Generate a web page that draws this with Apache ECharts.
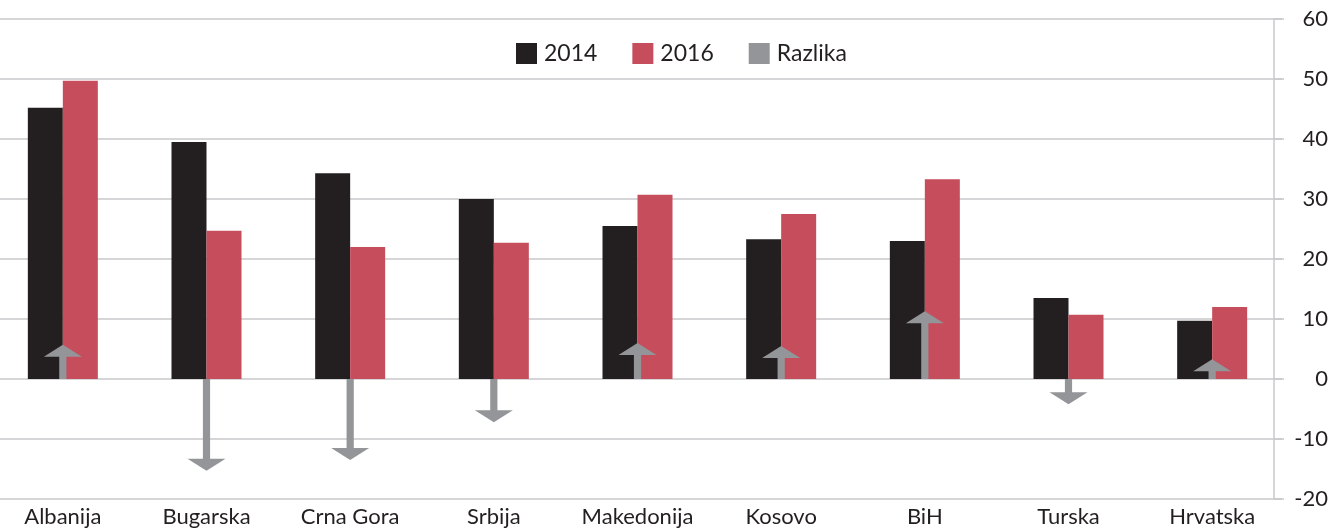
<!DOCTYPE html>
<html>
<head>
<meta charset="utf-8">
<script src="https://cdn.jsdelivr.net/npm/echarts@6/dist/echarts.min.js"></script>
<style>
  html, body { margin: 0; padding: 0; background: #fff; }
  #chart { width: 1340px; height: 530px; }
</style>
</head>
<body>
<div id="chart"></div>
<script>
  'use strict'

  var categories = ['Albanija', 'Bugarska', 'Crna Gora', 'Srbija', 'Makedonija', 'Kosovo', 'BiH', 'Turska', 'Hrvatska'];
  var values2014 = [45.2, 39.5, 34.3, 30.0, 25.5, 23.3, 23.0, 13.5, 9.7];
  var values2016 = [49.7, 24.7, 22.0, 22.7, 30.7, 27.5, 33.3, 10.7, 12.0];
  var razlika = [5.7, -15.3, -13.5, -7.2, 6.0, 5.5, 11.3, -4.2, 3.3];

  var font = 'Lato, "Open Sans", sans-serif';
  var gridColor = '#c9c9cb';

  /*-----arrow for razlika-----*/
  function renderArrow(params, api) {
    var idx = api.value(0);
    var val = api.value(1);
    var base = api.coord([idx, 0]);
    var tip = api.coord([idx, val]);
    var dir = tip[1] < base[1] ? 1 : -1;
    var shaft = 3.6, head = 19, headLen = 12;
    var x = base[0], neck = tip[1] + dir * headLen;
    var pts = [
      [x - shaft, base[1]],
      [x - shaft, neck],
      [x - head, neck],
      [x, tip[1]],
      [x + head, neck],
      [x + shaft, neck],
      [x + shaft, base[1]]
    ];
    return {
      type: 'polygon',
      shape: { points: pts },
      style: { fill: '#939598' }
    };
  }

  var chart = echarts.init(document.getElementById('chart'));

  var option = {
    animation: false,
    textStyle: { fontFamily: font },
    legend: {
      top: 37,
      left: 511,
      itemWidth: 21,
      itemHeight: 21,
      itemGap: 35,
      textStyle: { fontSize: 23, color: '#231f20', fontFamily: font, padding: [0, 0, 0, 2] },
      data: [
        { name: '2014', icon: 'rect' },
        { name: '2016', icon: 'rect' },
        { name: 'Razlika', icon: 'rect' }
      ]
    },
    grid: { left: -9, right: 56, top: 19, bottom: 31, outerBoundsMode: 'none' },
    xAxis: {
      type: 'category',
      data: categories,
      axisLine: { show: false },
      axisTick: { show: false },
      splitLine: { show: false },
      axisLabel: { interval: 0, fontSize: 22, color: '#231f20', margin: 7, fontFamily: font }
    },
    yAxis: {
      type: 'value',
      position: 'right',
      offset: -10,
      min: -20,
      max: 60,
      interval: 10,
      axisLine: { show: true, onZero: false, lineStyle: { color: gridColor, width: 1.5 } },
      axisTick: { show: true, length: 8, lineStyle: { color: gridColor, width: 1.5 } },
      splitLine: { show: true, lineStyle: { color: gridColor, width: 1.5 } },
      axisLabel: { fontSize: 22, color: '#231f20', align: 'right', margin: 54, fontFamily: font }
    },
    series: [
      {
        name: '2014',
        type: 'bar',
        barWidth: 35,
        barGap: '0%',
        data: values2014,
        itemStyle: { color: '#231f20' }
      },
      {
        name: '2016',
        type: 'bar',
        barWidth: 35,
        barGap: '0%',
        data: values2016,
        itemStyle: { color: '#c54d5c' }
      },
      {
        name: 'Razlika',
        type: 'custom',
        renderItem: renderArrow,
        itemStyle: { color: '#939598' },
        encode: { x: 0, y: 1 },
        z: 5,
        data: razlika.map(function (v, i) { return [i, v]; })
      }
    ]
  };

  chart.setOption(option);
</script>
</body>
</html>
